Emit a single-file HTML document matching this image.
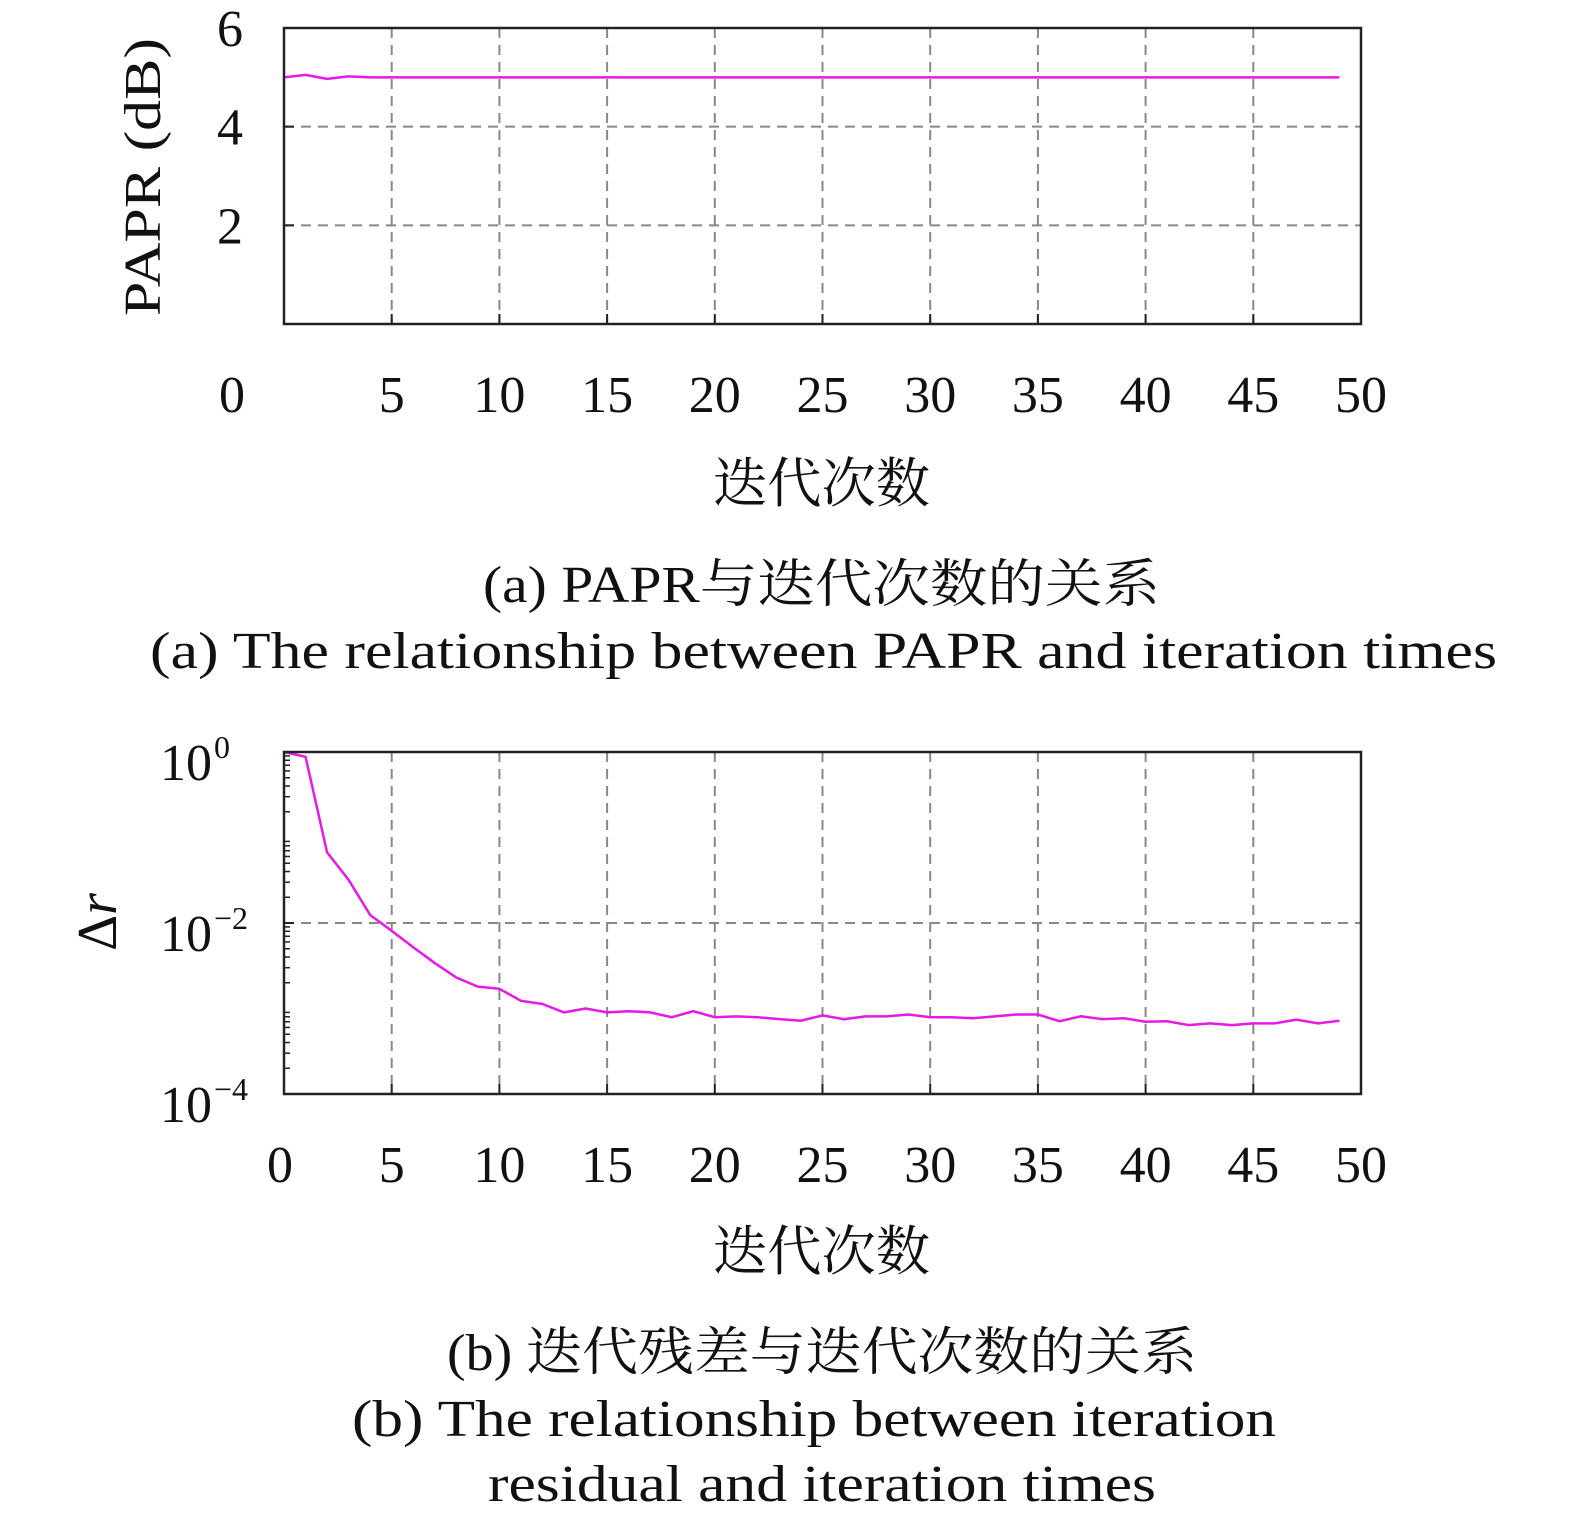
<!DOCTYPE html>
<html><head><meta charset="utf-8"><style>
html,body{margin:0;padding:0;background:#fff;width:1575px;height:1523px;overflow:hidden}
svg text{font-family:"Liberation Serif","Noto Serif CJK SC",serif;fill:#111}
</style></head><body>
<svg id="fig" width="1575" height="1523" viewBox="0 0 1575 1523" xmlns="http://www.w3.org/2000/svg"></svg>
<script>
const xTicks=[0,5,10,15,20,25,30,35,40,45,50];
const paprIter=[0,1,2,3,4,5,6,7,8,9,10,11,12,13,14,15,16,17,18,19,20,21,22,23,24,25,26,27,28,29,30,31,32,33,34,35,36,37,38,39,40,41,42,43,44,45,46,47,48,49];
const paprValues=[5.0,5.05,4.97,5.02,5.0,5.0,5.0,5.0,5.0,5.0,5.0,5.0,5.0,5.0,5.0,5.0,5.0,5.0,5.0,5.0,5.0,5.0,5.0,5.0,5.0,5.0,5.0,5.0,5.0,5.0,5.0,5.0,5.0,5.0,5.0,5.0,5.0,5.0,5.0,5.0,5.0,5.0,5.0,5.0,5.0,5.0,5.0,5.0,5.0,5.0];
const paprYTicks=[2,4,6];
const resIter=paprIter;
const resValues=[1.0,0.88,0.067,0.032,0.0124,0.0081,0.0052,0.0034,0.0023,0.0018,0.0017,0.00123,0.00113,0.0009,0.001,0.0009,0.00093,0.0009,0.00079,0.00093,0.00079,0.00081,0.00079,0.00075,0.00072,0.00083,0.00075,0.00081,0.00081,0.00085,0.00079,0.00079,0.00077,0.00081,0.00085,0.00085,0.00071,0.00081,0.00075,0.00077,0.0007,0.00071,0.00064,0.00067,0.00064,0.00067,0.00067,0.00074,0.00067,0.00072];
const resYTicks=[0,-2,-4];

const NS="http://www.w3.org/2000/svg";
const svg=document.getElementById('fig');
function mk(tag,attrs,parent){const e=document.createElementNS(NS,tag);for(const k in attrs)e.setAttribute(k,attrs[k]);(parent||svg).appendChild(e);return e;}
const L=284,R=1361;
const xs=v=>L+(R-L)*v/50;

function chart(top,bot,ysc,yticks,xs0label){
  const g=mk('g',{});
  xTicks.forEach(t=>{if(t>0&&t<50){const l=mk('line',{x1:xs(t),x2:xs(t),y1:top,y2:bot,stroke:'#888','stroke-width':2,'stroke-dasharray':'10,7'},g);
    
    const tk=mk('line',{x1:xs(t),x2:xs(t),y1:bot,y2:bot-10,stroke:'#222','stroke-width':2},g);
    }});
  yticks.forEach(t=>{const y=ysc(t);if(y>top+2&&y<bot-2){const l=mk('line',{x1:L,x2:R,y1:y,y2:y,stroke:'#888','stroke-width':2,'stroke-dasharray':'10,7'},g);
    }
    const tk=mk('line',{x1:L,x2:L+10,y1:y,y2:y,stroke:'#222','stroke-width':2},g);
    });
  xTicks.forEach(t=>{const tx=mk('text',{x:(t===0?xs0label:xs(t)),y:bot+88,'font-size':52,'text-anchor':'middle'},g);tx.textContent=t;
    });
  return g;
}
function txt(attrs,content,name,len){const t=mk('text',attrs);t.textContent=content;if(len){t.setAttribute('textLength',len);t.setAttribute('lengthAdjust','spacingAndGlyphs');}
  return t;}

// Chart A
const aTop=28,aBot=324;
const ysA=v=>aBot-(aBot-aTop)*v/6;
chart(aTop,aBot,ysA,paprYTicks,232);
paprYTicks.forEach(t=>{txt({x:243,y:ysA(t)+18,'font-size':52,'text-anchor':'end'},String(t),'y-tick-label');});
let d='';paprIter.forEach((x,i)=>{d+=(i?'L':'M')+xs(x)+','+ysA(paprValues[i]);});
const pa=mk('path',{d:d,fill:'none',stroke:'#e619e6','stroke-width':2.5});

const fa=mk('rect',{x:L,y:aTop,width:R-L,height:aBot-aTop,fill:'none',stroke:'#222','stroke-width':2.5});

txt({x:0,y:0,transform:'translate(160,316) rotate(-90)','font-size':52,'text-anchor':'start'},'PAPR (dB)','y-axis-title-a',278);
txt({x:713,y:502,'font-size':54,'text-anchor':'start'},'迭代次数','x-axis-title-a',217);
txt({x:483,y:602,'font-size':52,'text-anchor':'start'},'(a) PAPR与迭代次数的关系','caption-a-cn',677);
txt({x:150,y:668,'font-size':52,'text-anchor':'start'},'(a) The relationship between PAPR and iteration times','caption-a-en',1347);

// Chart B
const bTop=752,bBot=1094;
const ysB=e=>bTop+(bBot-bTop)*(-e)/4;
chart(bTop,bBot,ysB,resYTicks,280);
for(let dec=0;dec>-4;dec--){for(let m=2;m<=9;m++){const y=ysB(dec-1+Math.log10(m));
  const tk=mk('line',{x1:L,x2:L+6,y1:y,y2:y,stroke:'#222','stroke-width':1.5});
  }}
resYTicks.forEach(t=>{txt({x:212,y:ysB(t)+28,'font-size':52,'text-anchor':'end'},'10','y-tick-label');
  txt({x:214,y:ysB(t)+6,'font-size':32,'text-anchor':'start'},(t===0?'0':'−'+(-t)),'y-tick-exponent');});
d='';resIter.forEach((x,i)=>{d+=(i?'L':'M')+xs(x)+','+ysB(Math.log10(resValues[i]));});
const pb=mk('path',{d:d,fill:'none',stroke:'#e619e6','stroke-width':2.5});

const fb=mk('rect',{x:L,y:bTop,width:R-L,height:bBot-bTop,fill:'none',stroke:'#222','stroke-width':2.5});

const ylb=mk('text',{transform:'translate(116,922) rotate(-90)','font-size':56,'text-anchor':'middle'});ylb.innerHTML='Δ<tspan font-style="italic">r</tspan>';

txt({x:713,y:1270,'font-size':54,'text-anchor':'start'},'迭代次数','x-axis-title-b',217);
txt({x:447,y:1370,'font-size':52,'text-anchor':'start'},'(b) 迭代残差与迭代次数的关系','caption-b-cn',750);
txt({x:352,y:1436,'font-size':52,'text-anchor':'start'},'(b) The relationship between iteration','caption-b-en-line1',924);
txt({x:488,y:1501,'font-size':52,'text-anchor':'start'},'residual and iteration times','caption-b-en-line2',668);
</script>
</body></html>
